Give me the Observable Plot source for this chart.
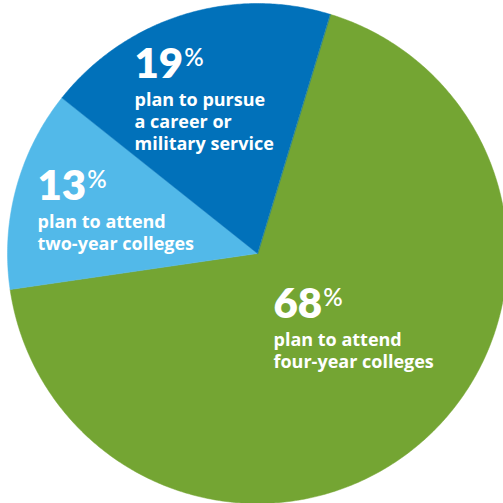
<!DOCTYPE html>
<html><head><meta charset="utf-8">
<script src="https://cdn.jsdelivr.net/npm/d3@7"></script>
<script src="https://cdn.jsdelivr.net/npm/@observablehq/plot@0.6"></script>
<style>html,body{margin:0;padding:0;background:#fff;overflow:hidden} svg{display:block}</style>
</head><body><div id="chart"></div>
<script>
// ---- data ----
const categories = ["four-year colleges", "two-year colleges", "career or military service"];
const shares = [68, 13, 19];
const descriptions = [
  "plan to attend\nfour-year colleges",
  "plan to attend\ntwo-year colleges",
  "plan to pursue\na career or\nmilitary service"
];
const colors = ["#74a533", "#52b9e9", "#0171ba"];

// ---- layout (pixels) ----
const W = 503, H = 503;
const cx = 257, cy = 253, R = 250;
const startDeg = 16.9;
const labelPx = [[273, 317], [37, 199], [134, 77]]; // left x, number baseline
const descGap = 25.5;      // number baseline -> first description baseline
const descSize = 18;

// pie geometry from the data
const pie = d3.pie().sort(null).value(d => d.share)
  .startAngle(startDeg * Math.PI / 180)
  .endAngle(startDeg * Math.PI / 180 + 2 * Math.PI);
const slices = pie(categories.map((c, i) => ({category: c, share: shares[i]})));
const pts = [];
for (const s of slices) {
  const c = s.data.category;
  pts.push({category: c, x: 0, y: 0});
  const n = Math.max(2, Math.ceil((s.endAngle - s.startAngle) / (Math.PI / 360)));
  for (let k = 0; k <= n; k++) {
    const a = s.startAngle + (s.endAngle - s.startAngle) * k / n;
    pts.push({category: c, x: Math.sin(a), y: Math.cos(a)});
  }
}

const toX = px => (px - cx) / R, toY = py => (cy - py) / R;
const labels = categories.map((c, i) => ({
  category: c, share: shares[i], desc: descriptions[i],
  x: toX(labelPx[i][0]), y: toY(labelPx[i][1]),
  yd: toY(labelPx[i][1] + descGap - 0.71 * descSize)
}));

const chart = Plot.plot({
  width: W, height: H, margin: 0,
  style: {fontFamily: "Lato, sans-serif", background: "transparent"},
  x: {domain: [-1, 1], range: [cx - R, cx + R], axis: null},
  y: {domain: [-1, 1], range: [cy + R, cy - R], axis: null},
  color: {domain: categories, range: colors},
  marks: [
    Plot.line(pts, {x: "x", y: "y", z: "category", fill: "category", stroke: "category", strokeWidth: 0.5, curve: "linear-closed"}),
    Plot.text(labels, {
      x: "x", y: "y", text: d => `${d.share}%`, textAnchor: "start", lineAnchor: "bottom",
      fontSize: 42, fontWeight: 800, fill: "white",
      render(index, scales, values, dims, ctx, next) {
        const g = next(index, scales, values, dims, ctx);
        d3.select(g).selectAll("text").each(function () {
          const t = this.textContent.replace("%", "");
          this.textContent = t;
          d3.select(this).append("tspan").attr("font-size", 24).attr("font-weight", 600).attr("dy", -12).attr("dx", 1).text("%");
        });
        return g;
      }
    }),
    Plot.text(labels, {
      x: "x", y: "yd", text: "desc", textAnchor: "start", lineAnchor: "top",
      fontSize: descSize, fontWeight: 700, fill: "white", lineHeight: 1.22,
      fontFamily: "Open Sans, sans-serif"
    })
  ]
});
document.getElementById("chart").append(chart);
</script>
</body></html>
